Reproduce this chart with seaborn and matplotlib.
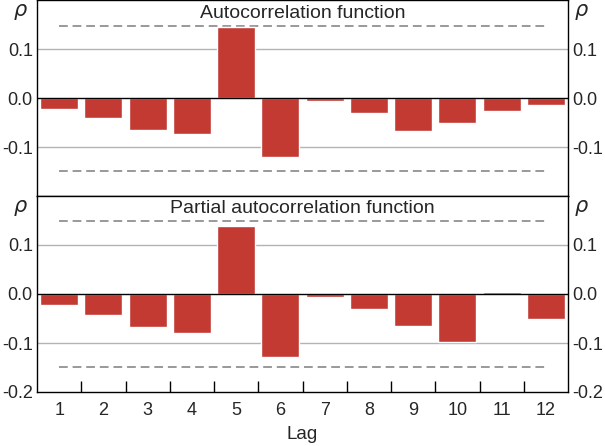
import numpy as np
import pandas as pd
import matplotlib
matplotlib.use("Agg")
import matplotlib.pyplot as plt
import seaborn as sns

# values
lags = [1, 2, 3, 4, 5, 6, 7, 8, 9, 10, 11, 12]
acf = [-0.022, -0.040, -0.065, -0.073, 0.146, -0.120, -0.005, -0.030, -0.067, -0.050, -0.026, -0.014]
pacf = [-0.022, -0.042, -0.067, -0.079, 0.139, -0.128, -0.006, -0.030, -0.065, -0.097, 0.004, -0.050]
bound = 0.148
titles = ["Autocorrelation function", "Partial autocorrelation function"]
yticks = [-0.2, -0.1, 0.0, 0.1]

sns.set_style("white")
plt.rcParams["font.family"] = ["Liberation Sans", "DejaVu Sans"]
plt.rcParams["font.size"] = 13

bar_col = "#C23A32"

fig = plt.figure(figsize=(6.05, 4.46), dpi=100)
left, width = 37 / 605, (568 - 37) / 605
h = 196 / 446
ax_top = fig.add_axes([left, 1 - h - 0.001, width, h])
ax_bot = fig.add_axes([left, 1 - 2 * h, width, h])

for ax, vals, title in zip([ax_top, ax_bot], [acf, pacf], titles):
    df = pd.DataFrame({"lag": [str(l) for l in lags], "rho": vals})
    sns.barplot(data=df, x="lag", y="rho", color=bar_col, saturation=1,
                width=0.86, ax=ax, zorder=3)
    ax.set_xlim(-0.5, len(lags) - 0.5)
    ax.set_ylim(-0.2, 0.2)
    for y in [-0.1, 0.1]:
        ax.axhline(y, color="#b3b3b3", lw=1, zorder=1)
    ax.axhline(0, color="black", lw=1, zorder=4)
    ax.hlines([bound, -bound], 0, len(lags) - 1, colors="#999999",
              linestyles=(0, (4.5, 2.5)), lw=1.4, zorder=2)
    ax.text(0.5, 1 - 13 / 196, title, transform=ax.transAxes,
            ha="center", va="center", fontsize=14)
    ax.set_xlabel("")
    ax.set_ylabel("")
    ax.set_yticks(yticks)
    ax.set_yticklabels(["-0.2", "-0.1", "0.0", "0.1"])
    ax.tick_params(axis="y", length=0, pad=3, labelright=True, labelleft=True)
    ax.text(-0.016, 1 - 12 / 196, r"$\rho$", transform=ax.transAxes,
            ha="right", va="center", fontsize=15)
    ax.text(1.012, 1 - 12 / 196, r"$\rho$", transform=ax.transAxes,
            ha="left", va="center", fontsize=15)
    for s in ax.spines.values():
        s.set_color("black")
        s.set_linewidth(1)

ax_top.set_yticks([-0.1, 0.0, 0.1])
ax_top.set_yticklabels(["-0.1", "0.0", "0.1"])
ax_top.set_xticks([])

ax_bot.set_xticks(range(len(lags)))
ax_bot.set_xticklabels([str(l) for l in lags])
ax_bot.set_xticks(np.arange(0.5, len(lags) - 1, 1), minor=True)
ax_bot.tick_params(axis="x", which="major", length=0, pad=7)
ax_bot.tick_params(axis="x", which="minor", direction="in", length=8,
                   width=1, color="black", bottom=True)
ax_bot.set_xlabel("Lag", fontsize=13.5, labelpad=5)

fig.savefig("out.png", dpi=100)
